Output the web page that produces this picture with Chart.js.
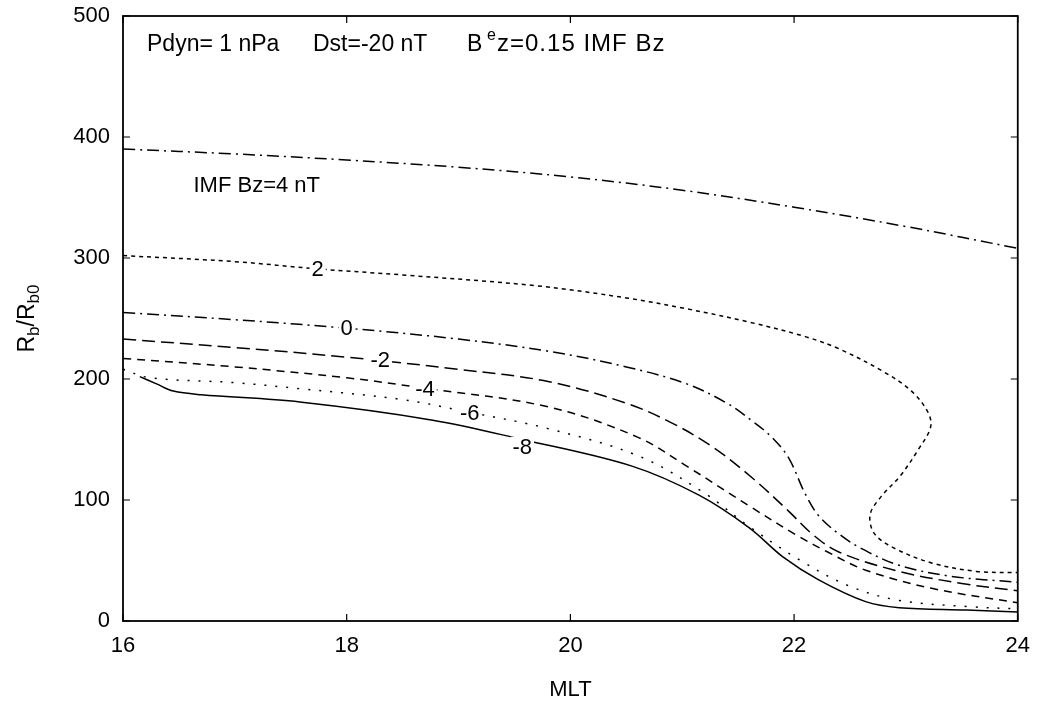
<!DOCTYPE html>
<html>
<head>
<meta charset="utf-8">
<script src="https://cdn.jsdelivr.net/npm/chart.js@4.4.1/dist/chart.umd.min.js"></script>
<style>
  html, body { margin: 0; padding: 0; background: #fff; }
  #wrap { width: 1042px; height: 701px; }
</style>
</head>
<body>
<div id="wrap"><canvas id="myChart" width="1042" height="701"></canvas></div>
<script>
// MLT (hours) and Rb/Rb0 for each IMF Bz contour
const bz4MLT = [16, 17, 18, 19, 20, 21, 22, 23, 24];
const bz4R   = [390, 386, 381, 375, 367, 356, 342, 326, 308];

const bz2MLT = [16, 17, 17.74, 18.5, 19.7, 20.5, 21.04, 21.6, 22.1, 22.4, 22.8, 23.05, 23.2, 23.22, 23.12, 22.95, 22.78, 22.68, 22.72, 22.9, 23.23, 23.63, 24];
const bz2R   = [302, 297, 291, 286, 277, 267, 258, 247, 235, 225, 206, 190, 172, 160, 143, 120, 103, 88, 72, 60, 48, 41, 40];

const bz0MLT = [16, 17, 18, 19, 19.8, 20.5, 21.04, 21.4, 21.63, 21.8, 21.95, 22.1, 22.22, 22.4, 22.6, 22.94, 23.4, 24];
const bz0R   = [255, 249, 242, 233, 223, 210, 196, 180, 165, 152, 135, 105, 87, 72, 60, 46, 37, 32];

const bzm2MLT = [16, 17, 18, 19, 19.8, 20.5, 20.9, 21.27, 21.63, 21.96, 22.16, 22.4, 22.94, 23.5, 24];
const bzm2R   = [233, 226, 218, 208, 198, 180, 164, 144, 118, 90, 72, 57, 41, 31, 25];

const bzm4MLT = [16, 17, 18, 18.65, 19.8, 20.6, 21.04, 21.6, 22.04, 22.3, 22.64, 23.23, 24];
const bzm4R   = [217, 210, 201, 193, 177, 152, 128, 95, 70, 57, 42, 27, 15];

const bzm6MLT = [16, 16.24, 17, 17.58, 18.5, 19.07, 19.8, 20.62, 21.21, 21.57, 22.04, 22.49, 22.94, 23.54, 24];
const bzm6R   = [208, 201, 197, 192, 183, 173, 159, 136, 105, 80, 51, 29, 17, 12, 10];

const bzm8MLT = [16.15, 16.3, 16.45, 16.7, 17.58, 18.77, 19.57, 20.55, 21.15, 21.6, 21.9, 22.22, 22.64, 22.94, 23.54, 24];
const bzm8R   = [202, 196, 190, 187, 181, 166, 150, 128, 104, 77, 53, 34, 16, 11, 9, 7.5];

// contour labels (text, MLT, Rb/Rb0)
const labelText = ['2', '0', '-2', '-4', '-6', '-8', 'IMF Bz=4 nT'];
const labelMLT  = [17.74, 18.0, 18.3, 18.7, 19.1, 19.57, 16.63];
const labelR    = [291, 242, 216, 192, 172, 144, 360];

const xTicks = [16, 18, 20, 22, 24];
const yTicks = [0, 100, 200, 300, 400, 500];

const FONT = '"Liberation Sans", Arial, Helvetica, sans-serif';

function toPoints(xs, ys) {
  return xs.map((x, i) => ({ x: x, y: ys[i] }));
}

function contour(xs, ys, dash) {
  return {
    data: toPoints(xs, ys),
    showLine: true,
    borderColor: '#000',
    borderWidth: 1.5,
    borderDash: dash,
    pointRadius: 0,
    tension: 0.35,
    fill: false
  };
}

// box, inward ticks, texts with sub/superscripts
const decorations = {
  id: 'decorations',
  afterDatasetsDraw(chart) {
    const ctx = chart.ctx;
    const a = chart.chartArea;
    const xs = chart.scales.x, ys = chart.scales.y;
    ctx.save();

    // contour labels, with a white gap in the line
    ctx.font = '22px ' + FONT;
    ctx.textBaseline = 'middle';
    labelText.forEach((t, i) => {
      const px = xs.getPixelForValue(labelMLT[i]);
      const py = ys.getPixelForValue(labelR[i]);
      const w = ctx.measureText(t).width;
      if (t.length < 3) {
        ctx.fillStyle = '#fff';
        ctx.fillRect(px - w / 2 - 2, py - 10, w + 4, 20);
        ctx.fillStyle = '#000';
        ctx.textAlign = 'center';
        ctx.fillText(t, px, py + 1);
      } else {
        ctx.fillStyle = '#000';
        ctx.textAlign = 'left';
        ctx.fillText(t, px, py + 1);
      }
    });

    // frame
    ctx.strokeStyle = '#000';
    ctx.lineWidth = 1.8;
    ctx.strokeRect(a.left, a.top, a.right - a.left, a.bottom - a.top);

    // ticks pointing inward, on all sides
    ctx.lineWidth = 1.2;
    ctx.beginPath();
    xTicks.forEach(v => {
      const px = xs.getPixelForValue(v);
      ctx.moveTo(px, a.bottom); ctx.lineTo(px, a.bottom - 7);
      ctx.moveTo(px, a.top); ctx.lineTo(px, a.top + 7);
    });
    yTicks.forEach(v => {
      const py = ys.getPixelForValue(v);
      ctx.moveTo(a.left, py); ctx.lineTo(a.left + 7, py);
      ctx.moveTo(a.right, py); ctx.lineTo(a.right - 7, py);
    });
    ctx.stroke();

    // parameters line at the top
    ctx.fillStyle = '#000';
    ctx.textAlign = 'left';
    ctx.textBaseline = 'alphabetic';
    const y = a.top + 35;
    ctx.font = '23px ' + FONT;
    ctx.fillText('Pdyn= 1 nPa', a.left + 24, y);
    ctx.fillText('Dst=-20 nT', a.left + 190, y);
    ctx.fillText('B', a.left + 344, y);
    ctx.font = '16px ' + FONT;
    ctx.fillText('e', a.left + 364, y - 11);
    ctx.font = '24px ' + FONT;
    ctx.letterSpacing = '1px';
    ctx.fillText('z=0.15 IMF Bz', a.left + 374, y);
    ctx.letterSpacing = '0px';

    // y axis title Rb/Rb0
    ctx.translate(26, (a.top + a.bottom) / 2);
    ctx.rotate(-Math.PI / 2);
    const parts = [['R', 23, 0], ['b', 17, 5], ['/R', 23, 0], ['b0', 17, 5]];
    let total = 0;
    parts.forEach(p => { ctx.font = p[1] + 'px ' + FONT; total += ctx.measureText(p[0]).width; });
    let tx = -total / 2;
    parts.forEach(p => {
      ctx.font = p[1] + 'px ' + FONT;
      ctx.fillText(p[0], tx, p[2] + 8);
      tx += ctx.measureText(p[0]).width;
    });
    ctx.restore();
  }
};

const ctx = document.getElementById('myChart').getContext('2d');
const myChart = new Chart(ctx, {
  type: 'scatter',
  data: {
    datasets: [
      contour(bz4MLT, bz4R, [12, 5, 2, 5]),
      contour(bz2MLT, bz2R, [4, 4]),
      contour(bz0MLT, bz0R, [12, 5, 2, 5]),
      contour(bzm2MLT, bzm2R, [13, 6]),
      contour(bzm4MLT, bzm4R, [8, 6]),
      contour(bzm6MLT, bzm6R, [2, 9]),
      contour(bzm8MLT, bzm8R, [])
    ]
  },
  options: {
    responsive: false,
    animation: false,
    layout: { padding: { top: 16, right: 22, left: 0, bottom: 0 } },
    plugins: { legend: { display: false }, tooltip: { enabled: false } },
    scales: {
      x: {
        type: 'linear',
        min: 16, max: 24,
        afterBuildTicks: s => { s.ticks = xTicks.map(v => ({ value: v })); },
        afterFit: s => { s.height = 80; },
        grid: { display: false, drawTicks: false },
        border: { display: false },
        ticks: { color: '#000', padding: 12, font: { family: FONT, size: 22 } },
        title: { display: true, text: 'MLT', color: '#000', padding: { top: 16, bottom: 0 }, font: { family: FONT, size: 22, lineHeight: 1.0 } }
      },
      y: {
        type: 'linear',
        min: 0, max: 500,
        afterBuildTicks: s => { s.ticks = yTicks.map(v => ({ value: v })); },
        afterFit: s => { s.width = 123; s.paddingTop = 0; s.paddingBottom = 0; },
        grid: { display: false, drawTicks: false },
        border: { display: false },
        ticks: { color: '#000', padding: 13, font: { family: FONT, size: 22 } }
      }
    }
  },
  plugins: [decorations]
});
</script>
</body>
</html>
